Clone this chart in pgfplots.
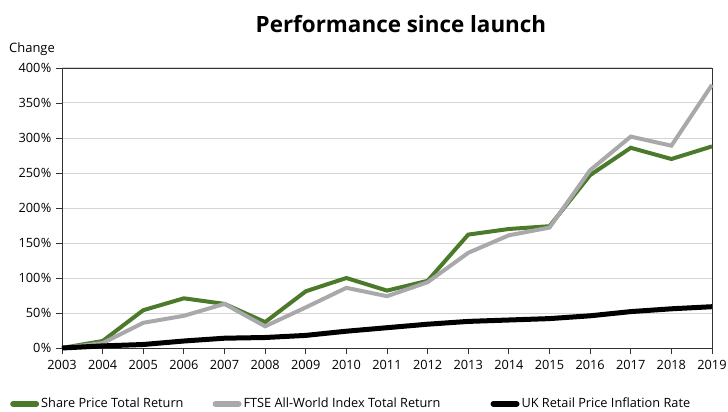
\documentclass[border=0pt]{standalone}
\usepackage{fontspec}
\setmainfont{Open Sans}
\usepackage{pgfplots}
\pgfplotsset{compat=1.18}
\definecolor{sgreen}{HTML}{4A7A2A}
\definecolor{sgray}{HTML}{A9A9AB}
\definecolor{gridc}{HTML}{D4D4D4}
\begin{document}
\begin{tikzpicture}[x=1bp,y=1bp]
\useasboundingbox (0,0) rectangle (728,411);
\begin{axis}[
  at={(62bp,63bp)}, anchor=south west,
  scale only axis, width=650bp, height=280bp,
  xmin=2003, xmax=2019, ymin=0, ymax=400,
  xtick={2003,...,2019}, ytick={0,50,...,400},
  /pgf/number format/1000 sep={},
  /pgf/number format/assume math mode=true,
  yticklabel={\pgfmathprintnumber{\tick}\kern0.5bp\%},
  tick label style={font=\fontsize{12.8}{14}\selectfont},
  xticklabel style={yshift=-3bp},
  yticklabel style={xshift=-1bp},
  ymajorgrids, grid style={gridc, line width=1bp},
  axis line style={black!80, line width=0.8bp},
  tick style={black!80, line width=0.8bp},
  tick align=outside, major tick length=6bp,
  xtick pos=bottom, ytick pos=left,
  legend style={at={(-52bp,-48bp)}, anchor=north west, draw=none, legend columns=3, inner sep=0pt,
    font=\fontsize{12.8}{14}\selectfont, /tikz/every even column/.style={column sep=14bp}},
  legend image code/.code={\draw[#1,line cap=round, line width=6bp] (3bp,0bp) -- (26bp,0bp);},
  clip=false,
]
\addplot[sgreen, line width=4bp] coordinates {
(2003,0)(2004,10)(2005,54)(2006,71)(2007,63)(2008,37)(2009,81)(2010,100)(2011,82)(2012,96)(2013,162)(2014,170)(2015,174)(2016,247)(2017,286)(2018,270)(2019,288)};
\addlegendentry{Share Price Total Return\kern13bp}
\addplot[sgray, line width=4bp] coordinates {
(2003,0)(2004,7)(2005,36)(2006,46)(2007,63)(2008,31)(2009,58)(2010,86)(2011,74)(2012,94)(2013,136)(2014,161)(2015,172)(2016,254)(2017,302)(2018,289)(2019,376)};
\addlegendentry{FTSE All-World Index Total Return\kern34bp}
\addplot[black, line width=5bp] coordinates {
(2003,0)(2004,3)(2005,5)(2006,10)(2007,14)(2008,15)(2009,18)(2010,24)(2011,29)(2012,34)(2013,38)(2014,40)(2015,42)(2016,46)(2017,52)(2018,56)(2019,59)};
\addlegendentry{UK Retail Price Inflation Rate}
\end{axis}
\node[anchor=base west, font=\fontsize{13}{14}\selectfont, inner sep=0pt] at (9,359) {Change};
\node[anchor=base, font=\bfseries\fontsize{22.5}{26}\selectfont, inner sep=0pt] at (401,379) {Performance since launch};
\end{tikzpicture}
\end{document}
